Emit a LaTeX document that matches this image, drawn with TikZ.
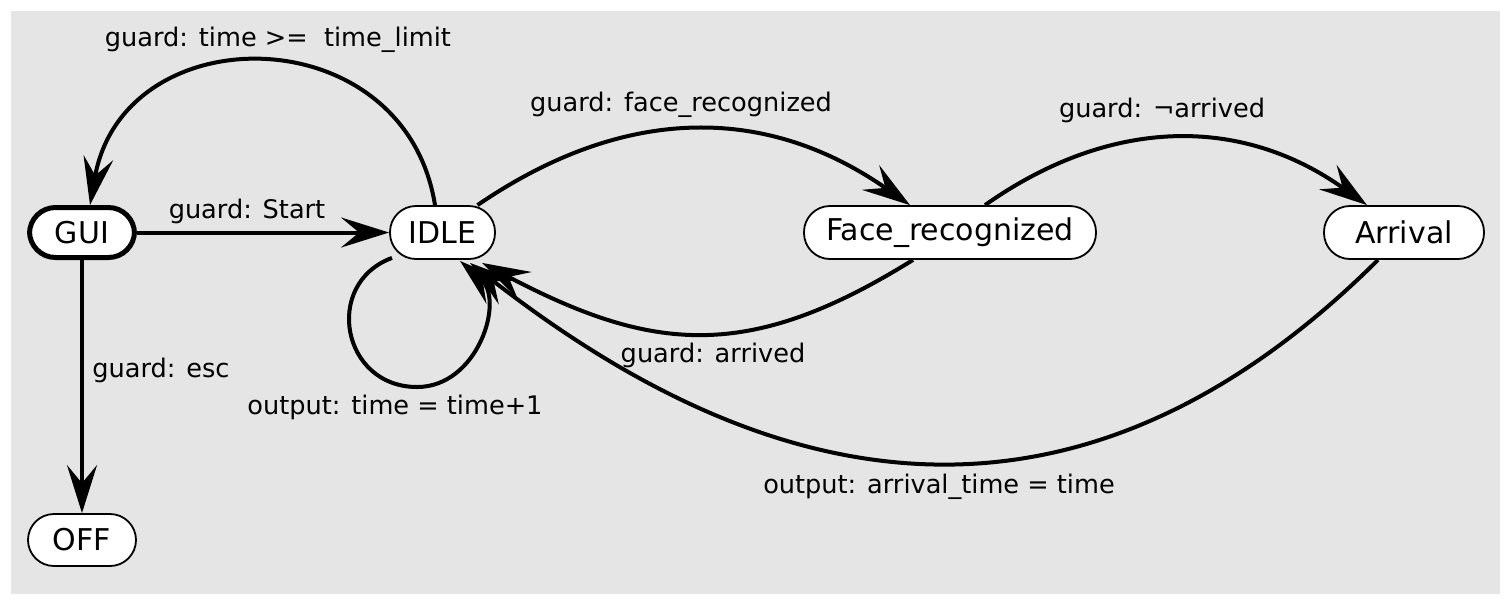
\documentclass[tikz,border=0pt]{standalone}
\usepackage{fontspec}
\setmainfont{DejaVu Sans}
\usetikzlibrary{arrows.meta}
\definecolor{bggray}{HTML}{E5E5E5}
\begin{document}
\begin{tikzpicture}[x=0.5pt,y=-0.5pt,
  state/.style={draw=black, line width=0.9pt, fill=white, rounded corners=13pt,
    minimum height=26.5pt, inner sep=0pt, font=\fontsize{15}{18}\selectfont},
  startstate/.style={state, line width=2.5pt, minimum height=25pt},
  lbl/.style={font=\fontsize{12.8}{15}\selectfont, inner sep=0pt},
  edge/.style={line width=2pt, -{Stealth[length=24pt,width=15pt,inset=9pt]}},
]
\useasboundingbox (0,0) rectangle (1512,602);
\fill[bggray] (11,11) rectangle (1500,594);

% states
\node[startstate, minimum width=52.5pt] (gui) at (82,232.5) {GUI};
\node[state, minimum width=52.5pt] (idle) at (442.5,232.5) {IDLE};
\node[state, minimum width=146pt] (face) at (950,232.5) {Face\_recognized};
\node[state, minimum width=80pt] (arrival) at (1404,232.5) {Arrival};
\node[state, minimum width=54pt, minimum height=26pt] (off) at (82,540) {OFF};

% transitions
\draw[edge] (gui.east) -- (idle.west);
\draw[edge] (gui.south) -- (off.north);
\draw[edge] ([xshift=-3.75pt]idle.north) .. controls (404.7,15.4) and (123.7,14) .. ([xshift=4pt]gui.north);
\draw[edge] ([xshift=17.5pt]idle.north) .. controls (623,105.5) and (765,103.5) .. ([xshift=-20pt]face.north);
\draw[edge] ([xshift=17.5pt]face.north) .. controls (1110,117) and (1241,115) .. ([xshift=-18.5pt]arrival.north);
\draw[edge] ([xshift=-18.5pt]face.south) .. controls (749,362) and (653,353) .. ([xshift=19.75pt,yshift=-1.5pt]idle.south);
\draw[edge] ([xshift=-13pt]arrival.south) .. controls (1044.7,591.3) and (726,462) .. ([xshift=13.75pt,yshift=-1.5pt]idle.south);
\coordinate (loopbot) at (417,387);
\draw[edge] ([xshift=-25.25pt,yshift=1pt]idle.south) .. controls (322.6,283.6) and (341.7,387) .. (loopbot)
   .. controls (478,387) and (505,300) .. ([xshift=8.75pt,yshift=-0.5pt]idle.south);

% labels
\node[lbl] (l1) at (278,40) {guard: time >=\ \ time\_limit};
\node[lbl] (l2) at (247,211) {guard: Start};
\node[lbl, anchor=west] (l3) at (92,370) {guard: esc};
\node[lbl] (l4) at (681,105) {guard: face\_recognized};
\node[lbl] (l5) at (1162,110) {guard: ¬arrived};
\node[lbl] (l6) at (713,355) {guard: arrived};
\node[lbl] (l7) at (395,407) {output: time = time+1};
\node[lbl] (l8) at (939,487) {output: arrival\_time = time};
\end{tikzpicture}
\end{document}
